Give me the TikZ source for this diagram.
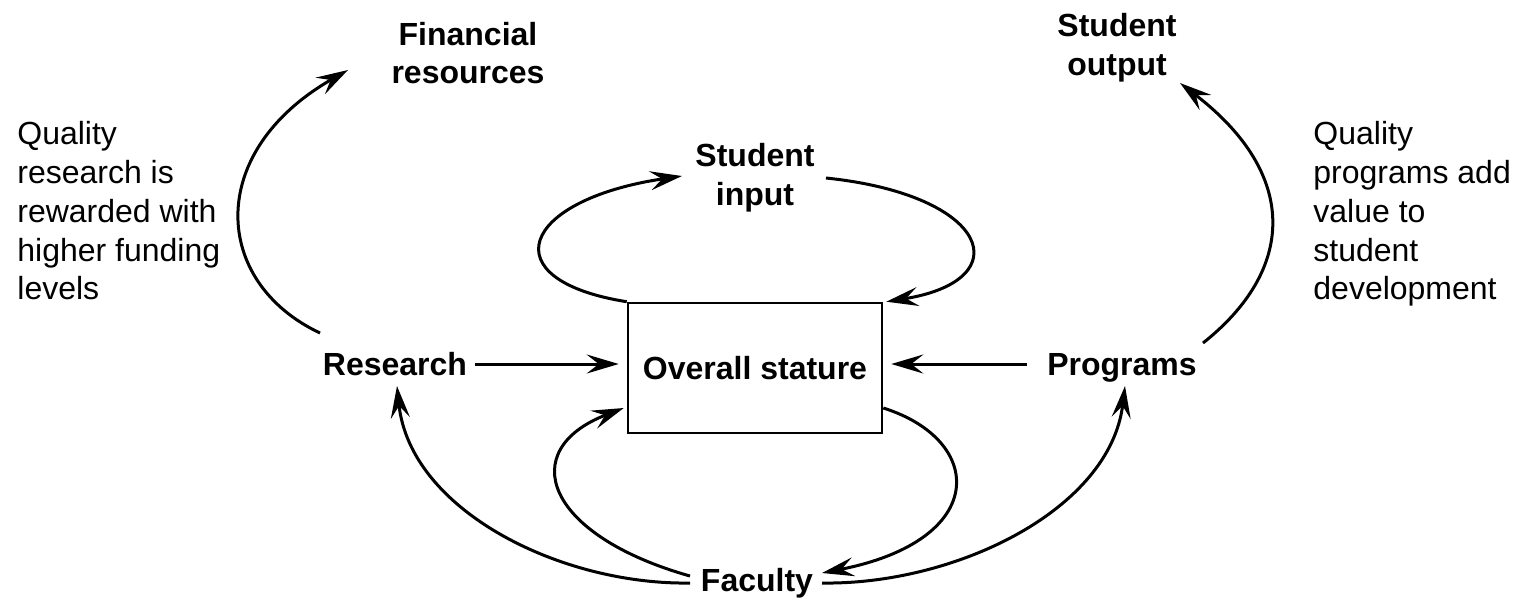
\documentclass[tikz,border=0pt]{standalone}
\usepackage{fontspec}
\setmainfont{Liberation Sans}
\usetikzlibrary{arrows.meta}
\begin{document}
\begin{tikzpicture}[x=0.5pt,y=-0.5pt,
  lbl/.style={font=\fontsize{16}{19.4}\selectfont\bfseries, align=center, inner sep=4pt},
  txt/.style={font=\fontsize{16}{19.4}\selectfont, align=left, anchor=north west, inner sep=0pt},
  conn/.style={line width=1.5pt, -{Stealth[length=16pt,width=9.5pt,inset=6pt]}},
  boxst/.style={draw, line width=1.3pt, minimum width=127pt, minimum height=65pt, font=\fontsize{16}{19.4}\selectfont\bfseries}]
\useasboundingbox (0,0) rectangle (1525,602);
\node[lbl] (fin) at (468,53) {Financial\\resources};
\node[lbl] (out) at (1117,48) {Student\\output};
\node[lbl] (sin) at (755,178) {Student\\input};
\node[boxst] (box) at (755,368) {Overall stature};
\node[lbl] (res) at (395,364) {Research};
\node[lbl, text depth=0pt] (prg) at (1122,364) {Programs};
\node[lbl] (fac) at (757,583) {Faculty};
\node[txt] (lt) at (17,121) {Quality\\research is\\rewarded with\\higher funding\\levels};
\node[txt] (rt) at (1313,121) {Quality\\programs add\\value to\\student\\development};
% outer loops
\draw[conn] ([shift={(-75,-31)}]res.center) .. controls (212,282) and (205,152) .. ([shift={(-120,17)}]fin.center);
\draw[conn] ([shift={(81,-21)}]prg.center) .. controls (1295,270) and (1300,175) .. ([shift={(63,35)}]out.center);
% student input loop
\draw[conn] (box.north west) .. controls (490,280) and (520,200) .. ([shift={(-73,-2)}]sin.center);
\draw[conn] ([shift={(71,0)}]sin.center) .. controls (990,195) and (1020,280) .. ([shift={(3,0)}]box.north east);
% faculty loop
\draw[conn] ([shift={(0,40)}]box.east) .. controls (985,440) and (990,540) .. ([shift={(65,-10)}]fac.center);
\draw[conn] ([shift={(-67,-7)}]fac.center) .. controls (545,535) and (515,450) .. ([shift={(-3,40)}]box.west);
% faculty to research / programs
\draw[conn] ([shift={(-67,0)}]fac.center) .. controls (560,585) and (410,510) .. ([shift={(2,22)}]res.center);
\draw[conn] ([shift={(65,0)}]fac.center) .. controls (955,585) and (1110,510) .. ([shift={(3,22)}]prg.center);
% straight
\draw[conn, shorten >=4pt] (res.east) -- (box.west |- res.east);
\draw[conn, shorten >=4pt] ([xshift=-6pt]prg.west) -- (box.east |- prg.west);
\end{tikzpicture}
\end{document}
